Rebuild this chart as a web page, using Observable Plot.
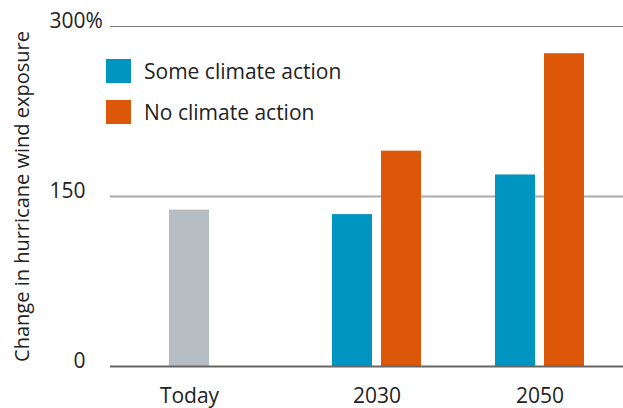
<!DOCTYPE html>
<html>
<head>
<meta charset="utf-8">
<script src="https://cdn.jsdelivr.net/npm/d3@7"></script>
<script src="https://cdn.jsdelivr.net/npm/@observablehq/plot@0.6"></script>
<style>
  html, body { margin: 0; padding: 0; background: #fff; }
  #wrap { position: relative; width: 623px; height: 408px; font-family: "Open Sans", sans-serif; color: #222; }
  .legend { position: absolute; left: 106px; display: flex; align-items: center; font-size: 21px; line-height: 24px; }
  .legend .sw { width: 25px; height: 24px; margin-right: 13px; }
</style>
</head>
<body>
<div id="wrap"></div>
<script>
// ---- data ----
const groups = ["Today", "2030", "2050"];
const scenarios = ["Some climate action", "No climate action"];
const todayValue = [138];
const someAction = [134, 169];   // 2030, 2050
const noAction = [190, 276];     // 2030, 2050
const yTicks = [0, 150, 300];
const yTitle = "Change in hurricane wind exposure";
const colors = ["#B6BEC4", "#0094C0", "#DC5808"];
const kinds = ["Today", ...scenarios];

// tables for the library
const firstSlot = [
  {group: "Today", kind: "Today", value: todayValue[0]},
  {group: "2030", kind: scenarios[0], value: someAction[0]},
  {group: "2050", kind: scenarios[0], value: someAction[1]}
];
const secondSlot = [
  {group: "2030", kind: scenarios[1], value: noAction[0]},
  {group: "2050", kind: scenarios[1], value: noAction[1]}
];

const font = "'Open Sans', sans-serif";
const fs = 21;
const chart = Plot.plot({
  width: 623,
  height: 408,
  marginLeft: 110,
  marginRight: 0,
  marginTop: 26,
  marginBottom: 42,
  style: {fontFamily: font, fontSize: fs + "px", color: "#222", background: "transparent"},
  x: {domain: groups, range: [169, 584], paddingInner: 74 / 163, paddingOuter: 0, round: false, axis: null},
  y: {domain: [0, 300], axis: null},
  color: {domain: kinds, range: colors},
  marks: [
    Plot.ruleY([150], {stroke: "#aaaaaa", strokeWidth: 2}),
    Plot.ruleY([300], {stroke: "#777777", strokeWidth: 1.2}),
    Plot.barY(firstSlot, {x: "group", y: "value", fill: "kind", insetRight: 49}),
    Plot.barY(secondSlot, {x: "group", y: "value", fill: "kind", insetLeft: 49}),
    Plot.ruleY([0], {stroke: "#666666", strokeWidth: 2}),
    // y tick labels
    Plot.text(yTicks, {y: d => d, text: d => String(d), frameAnchor: "left", textAnchor: "end", dx: -25, dy: -5, fontSize: fs, fill: "#222"}),
    Plot.text(yTicks.filter(d => d === 300), {y: d => d, text: () => "%", frameAnchor: "left", textAnchor: "start", dx: -25, dy: -5, fontSize: fs, fill: "#222"}),
    // y title
    Plot.text([yTitle], {y: 150, text: d => d, frameAnchor: "left", textAnchor: "middle", dx: -88, rotate: -90, fontSize: 20, fill: "#222"}),
    // x labels
    Plot.text(groups.filter(g => g === "Today"), {x: d => d, text: d => d, frameAnchor: "bottom", dx: -24.5, dy: 36, fontSize: fs, fill: "#222"}),
    Plot.text(groups.filter(g => g !== "Today"), {x: d => d, text: d => d, frameAnchor: "bottom", dy: 36, fontSize: fs, fill: "#222"})
  ]
});

const wrap = document.getElementById("wrap");
wrap.appendChild(chart);

// legend
scenarios.forEach((s, i) => {
  const item = document.createElement("div");
  item.className = "legend";
  item.style.top = (59 + i * 41) + "px";
  const sw = document.createElement("div");
  sw.className = "sw";
  sw.style.background = colors[i + 1];
  const label = document.createElement("span");
  label.textContent = s;
  item.appendChild(sw);
  item.appendChild(label);
  wrap.appendChild(item);
});
</script>
</body>
</html>
